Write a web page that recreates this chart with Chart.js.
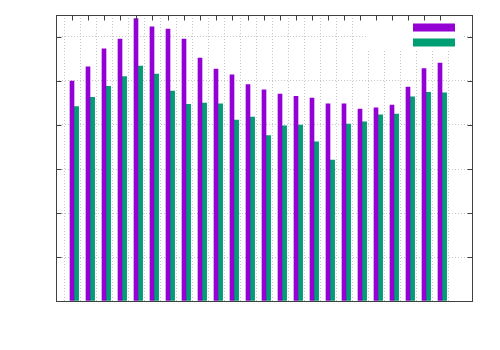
<!DOCTYPE html>
<html><head><meta charset="utf-8">
<script src="https://cdn.jsdelivr.net/npm/chart.js@4"></script>
<style>html,body{margin:0;padding:0;background:#fff}#wrap{width:500px;height:350px}</style>
</head><body><div id="wrap"><canvas id="c" width="500" height="350"></canvas></div>
<script>
const categories = [1,2,3,4,5,6,7,8,9,10,11,12,13,14,15,16,17,18,19,20,21,22,23,24];
const seriesA = [5.00,5.32,5.73,5.95,6.42,6.23,6.18,5.95,5.52,5.27,5.14,4.92,4.80,4.70,4.65,4.61,4.48,4.48,4.36,4.39,4.45,4.86,5.28,5.41];
const seriesB = [4.42,4.63,4.88,5.10,5.34,5.16,4.77,4.47,4.50,4.48,4.11,4.18,3.76,3.98,4.00,3.62,3.20,4.02,4.07,4.23,4.25,4.64,4.74,4.73];
const yTicks = [0,1,2,3,4,5,6];
const colorA = '#9400D3', colorB = '#009E73';

const keyPlugin = {
  id:'key',
  beforeDatasetsDraw(chart){
    const ctx = chart.ctx, ca = chart.chartArea;
    ctx.save();
    ctx.fillStyle = '#ffffff';
    ctx.fillRect(ca.right-104, ca.top+1, 95, 34);
    ctx.fillStyle = colorA;
    ctx.fillRect(ca.right-59, ca.top+8.5, 42, 8);
    ctx.fillStyle = colorB;
    ctx.fillRect(ca.right-59, ca.top+23.5, 42, 8);
    ctx.restore();
  }
};
const framePlugin = {
  id:'frame',
  afterDraw(chart){
    const ctx = chart.ctx, ca = chart.chartArea, xs = chart.scales.x, ys = chart.scales.y;
    ctx.save();
    ctx.strokeStyle = '#404040';
    ctx.lineWidth = 1;
    const L = Math.round(ca.left)+0.5, R = Math.round(ca.right)+0.5, T = Math.round(ca.top)+0.5, B = Math.round(ca.bottom)+0.5;
    ctx.beginPath();
    yTicks.forEach(v => {
      const py = Math.round(ys.getPixelForValue(v))+0.5;
      ctx.moveTo(L, py); ctx.lineTo(L+5, py);
      ctx.moveTo(R, py); ctx.lineTo(R-5, py);
    });
    categories.forEach(v => {
      const px = Math.round(xs.getPixelForValue(v))+0.5;
      ctx.moveTo(px, T); ctx.lineTo(px, T+5);
    });
    ctx.stroke();
    ctx.strokeRect(L, T, R-L, B-T);
    ctx.restore();
  }
};

new Chart(document.getElementById('c'), {
  type:'bar',
  data:{
    datasets:[
      {data: categories.map((c,i)=>({x:c, y:seriesA[i]})), backgroundColor: colorA, barThickness: 4, grouped:false, borderWidth:0},
      {data: categories.map((c,i)=>({x:c+0.27, y:seriesB[i]})), backgroundColor: colorB, barThickness: 4.6, grouped:false, borderWidth:0}
    ]
  },
  options:{
    responsive:false, animation:false, devicePixelRatio:1,
    layout:{padding:{left:56, right:28, top:15, bottom:49}},
    plugins:{legend:{display:false}, tooltip:{enabled:false}},
    scales:{
      x:{type:'linear', min:0, max:26, offset:false,
         afterBuildTicks: s => { s.ticks = categories.map(v=>({value:v})); },
         ticks:{display:false}, grid:{color:'#c6c6c6', lineWidth:1, drawTicks:false},
         border:{display:false, dash:[1,2]}},
      y:{min:0, max:6.5,
         afterBuildTicks: s => { s.ticks = yTicks.map(v=>({value:v})); },
         ticks:{display:false}, grid:{color:'#c6c6c6', lineWidth:1, drawTicks:false},
         border:{display:false, dash:[1,2]}}
    }
  },
  plugins:[keyPlugin, framePlugin]
});
</script>
</body></html>
